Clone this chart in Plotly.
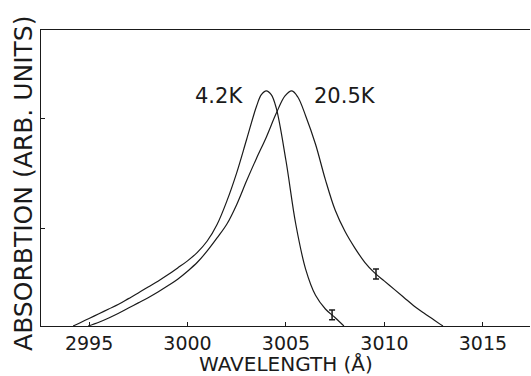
import plotly.graph_objects as go

# 4.2 K spectrum (wavelength in Å, absorption in arb. units)
wl_42 = [2994.19, 2994.5, 2995.0, 2995.5, 2996.0, 2996.5, 2997.0, 2997.5,
         2998.0, 2998.5, 2999.0, 2999.5, 3000.0, 3000.5, 3001.0, 3001.5,
         3002.0, 3002.5, 3003.0, 3003.5, 3003.75, 3004.0, 3004.25, 3004.5,
         3005.0, 3005.5, 3006.0, 3006.5, 3007.0, 3007.5, 3007.94]
ab_42 = [0.0, 0.012, 0.032, 0.052, 0.072, 0.092, 0.116, 0.140,
         0.165, 0.190, 0.217, 0.246, 0.276, 0.312, 0.360, 0.430,
         0.530, 0.650, 0.790, 0.930, 0.980, 0.996, 0.980, 0.925,
         0.700, 0.430, 0.240, 0.130, 0.072, 0.035, 0.0]

# 20.5 K spectrum
wl_205 = [2994.95, 2995.5, 2996.0, 2996.5, 2997.0, 2997.5, 2998.0, 2998.5,
          2999.0, 2999.5, 3000.0, 3000.5, 3001.0, 3001.5, 3002.0, 3002.5,
          3003.0, 3003.5, 3004.0, 3004.5, 3004.95, 3005.3, 3005.6, 3006.0,
          3006.5, 3007.0, 3007.5, 3008.0, 3008.5, 3009.0, 3009.5, 3010.0,
          3010.5, 3011.0, 3011.5, 3012.0, 3012.5, 3012.97]
ab_205 = [0.0, 0.016, 0.034, 0.054, 0.076, 0.098, 0.120, 0.144,
          0.170, 0.198, 0.232, 0.270, 0.318, 0.373, 0.432, 0.515,
          0.615, 0.710, 0.800, 0.900, 0.975, 0.996, 0.970, 0.890,
          0.770, 0.620, 0.490, 0.400, 0.330, 0.270, 0.225, 0.190,
          0.155, 0.120, 0.085, 0.055, 0.027, 0.0]

# error bars
err_wl = [3007.34, 3009.57]
err_ab = [0.047, 0.220]
err_half = [0.021, 0.021]

x_ticks = [2995, 3000, 3005, 3010, 3015]
y_ticks = [0.415, 0.881]

labels = ["4.2K", "20.5K"]
label_x = [3002.92, 3006.32]
label_y = [0.975, 0.975]

x_title = "WAVELENGTH (Å)"
y_title = "ABSORBTION (ARB. UNITS)"

ink = "#1a1a1a"
font_fam = "DejaVu Sans"

fig = go.Figure()
for wl, ab in ((wl_42, ab_42), (wl_205, ab_205)):
    fig.add_trace(go.Scatter(x=wl, y=ab, mode="lines",
                             line=dict(color=ink, width=1.2, shape="spline", smoothing=1.0),
                             showlegend=False, hoverinfo="skip"))

fig.add_trace(go.Scatter(x=err_wl, y=err_ab, mode="markers",
                         marker=dict(size=1, color=ink),
                         error_y=dict(type="data", array=err_half, width=3,
                                      thickness=1.5, color=ink),
                         showlegend=False, hoverinfo="skip"))

fig.add_annotation(x=label_x[0], y=label_y[0], text=labels[0], showarrow=False,
                   xanchor="right", yanchor="middle",
                   font=dict(family=font_fam, size=21, color=ink))
fig.add_annotation(x=label_x[1], y=label_y[1], text=labels[1], showarrow=False,
                   xanchor="left", yanchor="middle",
                   font=dict(family=font_fam, size=21, color=ink))

# axis titles placed as paper-anchored text
fig.add_annotation(xref="paper", yref="paper", x=0.5, y=-0.128, text=x_title,
                   showarrow=False, xanchor="center", yanchor="middle",
                   font=dict(family=font_fam, size=20, color=ink))
fig.add_annotation(xref="paper", yref="paper", x=-0.037, y=0.483, text=y_title,
                   showarrow=False, xanchor="center", yanchor="middle", textangle=-90,
                   font=dict(family=font_fam, size=25, color=ink))

fig.update_layout(
    width=531, height=376,
    margin=dict(l=41, r=1, t=30, b=50),
    paper_bgcolor="white", plot_bgcolor="white",
    xaxis=dict(range=[2992.56, 3017.39], tickvals=x_ticks,
               ticktext=[str(v) for v in x_ticks],
               ticks="inside", ticklen=4, tickwidth=1, tickcolor=ink,
               showline=True, linecolor=ink, linewidth=1.3, mirror=True,
               showgrid=False, zeroline=False, automargin=False,
               tickfont=dict(family=font_fam, size=19, color=ink)),
    yaxis=dict(range=[0, 1.254], tickvals=y_ticks, showticklabels=False,
               ticks="inside", ticklen=4, tickwidth=1, tickcolor=ink,
               showline=True, linecolor=ink, linewidth=1.3,
               showgrid=False, zeroline=False, automargin=False),
)

fig.write_html("out.html",
               config={"displayModeBar": False},
               post_script="document.body.style.margin='0';"
                           "document.body.style.overflow='hidden';")
